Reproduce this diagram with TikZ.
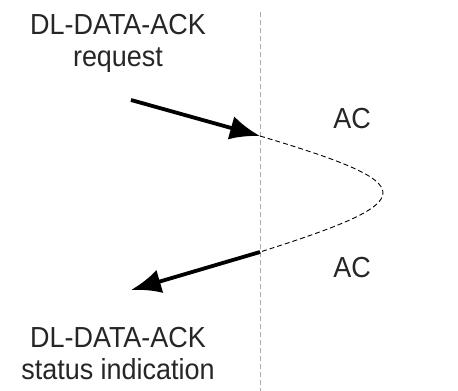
\documentclass[tikz,border=0pt]{standalone}
\usepackage{fontspec}
\setmainfont[FakeStretch=0.93]{Liberation Sans}
\usepackage{tikz}
\usetikzlibrary{arrows.meta}

\begin{document}
\begin{tikzpicture}[x=1pt,y=1pt,yscale=-1,
  lbl/.style={font=\fontsize{29}{32}\selectfont,align=center,text=black!85,inner sep=0pt},
  prim/.style={line width=3.8pt,-{Latex[length=30pt,width=24pt]}},
  turn/.style={dash pattern={on 5pt off 3pt},line width=0.9pt}]
\useasboundingbox (0,0) rectangle (458,391);

%Straight Lines: time line
\coordinate (top) at (260,12);
\coordinate (bot) at (260,391);
\draw [color={rgb,255:red,170;green,170;blue,170},dash pattern={on 5pt off 3pt},line width=1pt] (top) -- (bot) ;

% Points on the time line
\coordinate (inA) at (260,136);
\coordinate (outA) at (260,252);
\coordinate (reqS) at (131,100);
\coordinate (indE) at (131,290);

%Arrows
\draw [prim] (reqS) -- (inA) ;
\draw [prim] (outA) -- (indE) ;

%Curve
\draw [turn] (inA) .. controls (424,185) and (424,200) .. (outA) ;

% Text Node
\node [lbl] (req) at (118,43) {DL-DATA-ACK\\request};
% Text Node
\node [lbl] (ind) at (118,354) {DL-DATA-ACK\\status indication};
% Text Node
\node [lbl] (ac1) at (352,119) {AC};
% Text Node
\node [lbl] (ac2) at (352,268) {AC};

\end{tikzpicture}
\end{document}
